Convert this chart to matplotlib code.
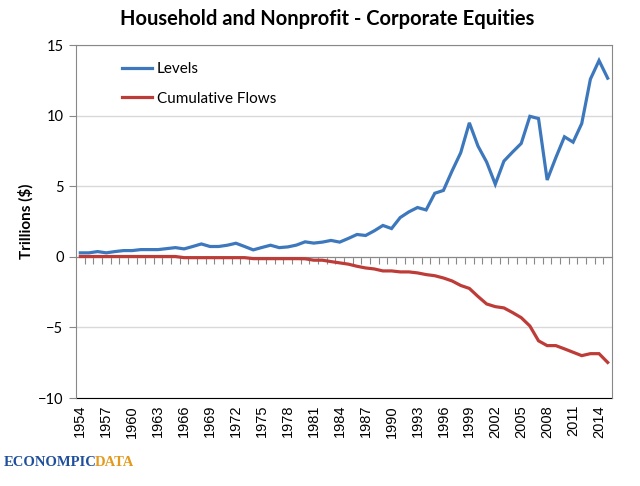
import matplotlib
matplotlib.use("Agg")
import matplotlib.pyplot as plt
import numpy as np

years = list(range(1954, 2016))

levels = [0.28, 0.28, 0.37, 0.28, 0.37, 0.44, 0.44, 0.51, 0.51, 0.51,
          0.58, 0.65, 0.56, 0.73, 0.91, 0.73, 0.73, 0.82, 0.96, 0.73,
          0.49, 0.66, 0.82, 0.65, 0.70, 0.83, 1.06, 0.97, 1.04, 1.16,
          1.04, 1.30, 1.58, 1.51, 1.84, 2.22, 2.00, 2.78, 3.18, 3.49,
          3.32, 4.50, 4.70, 6.08, 7.37, 9.49, 7.84, 6.71, 5.14, 6.78,
          7.42, 8.03, 9.95, 9.79, 5.44, 7.02, 8.50, 8.12, 9.44, 12.58,
          13.90, 12.65]

cum_flows = [0.02, 0.02, 0.02, 0.02, 0.02, 0.02, 0.02, 0.02, 0.02, 0.02,
             0.02, 0.02, -0.06, -0.06, -0.06, -0.06, -0.06, -0.06, -0.06, -0.06,
             -0.13, -0.13, -0.13, -0.13, -0.13, -0.13, -0.14, -0.24, -0.24, -0.34,
             -0.43, -0.52, -0.67, -0.79, -0.86, -1.00, -1.00, -1.07, -1.07, -1.14,
             -1.26, -1.34, -1.50, -1.71, -2.03, -2.24, -2.81, -3.34, -3.53, -3.62,
             -3.95, -4.31, -4.90, -5.95, -6.29, -6.29, -6.52, -6.76, -7.00, -6.86,
             -6.86, -7.48]

title = "Household and Nonprofit - Corporate Equities"
ylabel = "Trillions ($)"
yticks = [-10, -5, 0, 5, 10, 15]
label_years = list(range(1954, 2016, 3))

plt.rcParams['font.family'] = ['Lato', 'DejaVu Sans']

fig = plt.figure(figsize=(6.4, 4.86), dpi=100)
ax = fig.add_axes([76/640, 1 - 398/486, 536/640, 353/486])

blue = '#3d78bd'
red = '#be3c37'
ax.plot(years, levels, color=blue, lw=2.3, label='Levels', solid_joinstyle='miter', zorder=3)
ax.plot(years, cum_flows, color=red, lw=2.3, label='Cumulative Flows', solid_joinstyle='miter', zorder=3)

ax.set_xlim(years[0] - 0.5, years[-1] + 0.5)
ax.set_ylim(-10, 15)
ax.set_yticks(yticks)
ax.tick_params(axis='y', length=5, color='#888888', labelsize=10.5, pad=4)
ax.yaxis.grid(True, color='#d9d9d9', lw=1)
ax.set_axisbelow(True)

# category axis sits at zero, tick marks between categories
ax.spines['bottom'].set_position(('data', 0))
ax.spines['bottom'].set_color('#888888')
ax.set_xticks([y - 0.5 for y in years[1:]])
ax.tick_params(axis='x', length=5, color='#888888', labelbottom=False, direction='out')
for s in ['left', 'top', 'right']:
    ax.spines[s].set_color('#888888')

# labels along the bottom edge
sec = ax.secondary_xaxis(0)
sec.set_xticks(label_years)
sec.set_xticklabels([str(y) for y in label_years], rotation=90,
                    family=['Liberation Sans', 'DejaVu Sans'], fontsize=10.5)
sec.tick_params(length=0, pad=5)
sec.spines['bottom'].set_color('black')

ax.set_ylabel(ylabel, fontsize=11, fontweight='bold', labelpad=3)
fig.text(327/640, 1 - 19/486, title, ha='center', va='center', fontsize=14.5, fontweight='bold')

ax.legend(loc='upper left', bbox_to_anchor=(0.06, 0.99), frameon=False, fontsize=11,
          handlelength=2.0, handletextpad=0.3, labelspacing=1.0)

# logo
t1 = fig.text(4/640, 1 - 462/486, "ECONOMPIC", color='#1f4f9c', fontsize=10.5,
              fontweight='bold', family='Liberation Serif', va='center')
fig.canvas.draw()
bb = t1.get_window_extent()
fig.text((bb.x1 - 2) / 640, 1 - 462/486, "DATA", color='#e39a1c', fontsize=10.5,
         fontweight='bold', family='Liberation Serif', va='center')

fig.savefig('out.png', dpi=100)
